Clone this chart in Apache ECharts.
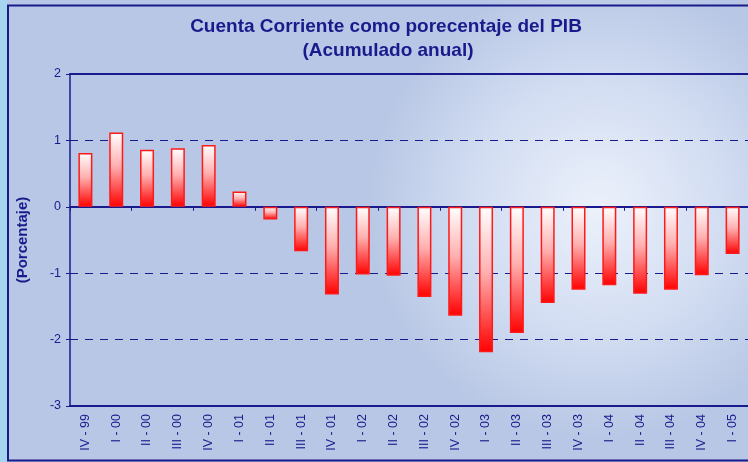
<!DOCTYPE html>
<html>
<head>
<meta charset="utf-8">
<script src="https://cdn.jsdelivr.net/npm/echarts@6/dist/echarts.min.js"></script>
<style>
  html, body { margin: 0; padding: 0; background: #b8c7e5; }
  #chart { width: 748px; height: 462px; }
</style>
</head>
<body>
<div id="chart"></div>
<script>
// trimestres
const quarters = ['IV - 99', 'I - 00', 'II - 00', 'III - 00', 'IV - 00', 'I - 01', 'II - 01', 'III - 01',
  'IV - 01', 'I - 02', 'II - 02', 'III - 02', 'IV - 02', 'I - 03', 'II - 03', 'III - 03',
  'IV - 03', 'I - 04', 'II - 04', 'III - 04', 'IV - 04', 'I - 05']
// cuenta corriente, % del PIB
const ccPib = [0.81, 1.12, 0.86, 0.88, 0.93, 0.23, -0.19, -0.67,
  -1.32, -1.02, -1.04, -1.36, -1.64, -2.19, -1.90, -1.45,
  -1.25, -1.18, -1.31, -1.25, -1.03, -0.71]
const yTicks = [-3, -2, -1, 0, 1, 2]

const navy = '#1a1a8c'
const font = 'Liberation Sans, Arial, sans-serif'

const chart = echarts.init(document.getElementById('chart'))

const option = {
  animation: false,
  backgroundColor: '#b8c7e5',
  graphic: [
    {
      type: 'rect', z: -100, silent: true,
      shape: { x: 0, y: 0, width: 748, height: 462 },
      style: {
        fill: new echarts.graphic.RadialGradient(0.8, 0.45, 0.5, [
          { offset: 0, color: 'rgba(236,241,251,1)' },
          { offset: 0.55, color: 'rgba(210,221,242,1)' },
          { offset: 1, color: 'rgba(184,199,229,1)' }
        ])
      }
    },
    {
      type: 'rect', z: -90, silent: true,
      shape: { x: 0, y: 0, width: 7, height: 462 },
      style: { fill: '#a6d6ef' }
    },
    {
      type: 'rect', z: -80, silent: true,
      shape: { x: 8, y: 5.5, width: 760, height: 455 },
      style: { fill: 'transparent', stroke: navy, lineWidth: 2 }
    },
    {
      type: 'text', x: 386, y: 27,
      style: {
        text: 'Cuenta Corriente como porecentaje del PIB',
        fontFamily: font, fontSize: 19, fontWeight: 'bold',
        fill: navy, align: 'center', verticalAlign: 'middle'
      }
    },
    {
      type: 'text', x: 388, y: 51,
      style: {
        text: '(Acumulado anual)',
        fontFamily: font, fontSize: 19, fontWeight: 'bold',
        fill: navy, align: 'center', verticalAlign: 'middle'
      }
    }
  ],
  grid: {
    left: 70,
    top: 74,
    width: 681,
    height: 332
  },
  xAxis: [
    {
      // etiquetas y borde inferior
      type: 'category',
      data: quarters,
      position: 'bottom',
      axisLine: { show: true, onZero: false, lineStyle: { color: navy, width: 2 } },
      axisTick: { show: false },
      axisLabel: {
        rotate: 90,
        color: navy,
        fontFamily: font,
        fontSize: 12.5,
        margin: 8,
        interval: 0
      }
    },
    {
      // línea del cero
      type: 'category',
      data: quarters,
      position: 'bottom',
      axisLine: { show: true, onZero: true, lineStyle: { color: navy, width: 2 } },
      axisTick: { show: true, length: 4, lineStyle: { color: navy } },
      axisLabel: { show: false }
    },
    {
      // borde superior
      type: 'category',
      data: quarters,
      position: 'top',
      axisLine: { show: true, onZero: false, lineStyle: { color: navy, width: 2 } },
      axisTick: { show: false },
      axisLabel: { show: false }
    }
  ],
  yAxis: {
    type: 'value',
    min: yTicks[0],
    max: yTicks[yTicks.length - 1],
    interval: 1,
    name: '(Porcentaje)',
    nameLocation: 'middle',
    nameRotate: 90,
    nameGap: 40,
    nameTextStyle: { color: navy, fontFamily: font, fontSize: 15, fontWeight: 'bold' },
    axisLine: { show: true, lineStyle: { color: navy, width: 1.5 } },
    axisTick: { show: true, length: 4, lineStyle: { color: navy } },
    axisLabel: { color: navy, fontFamily: font, fontSize: 12.5, margin: 9 },
    splitLine: {
      show: true,
      lineStyle: { color: navy, type: [8, 7], width: 1 }
    }
  },
  series: [{
    type: 'bar',
    xAxisIndex: 0,
    data: ccPib,
    barWidth: 14,
    itemStyle: {
      color: new echarts.graphic.LinearGradient(0, 0, 0, 1, [
        { offset: 0, color: '#ffffff' },
        { offset: 0.45, color: '#ffb0b0' },
        { offset: 1, color: '#ff0000' }
      ]),
      borderColor: '#ff1a1a',
      borderWidth: 1.5
    }
  }]
}

chart.setOption(option)
</script>
</body>
</html>
